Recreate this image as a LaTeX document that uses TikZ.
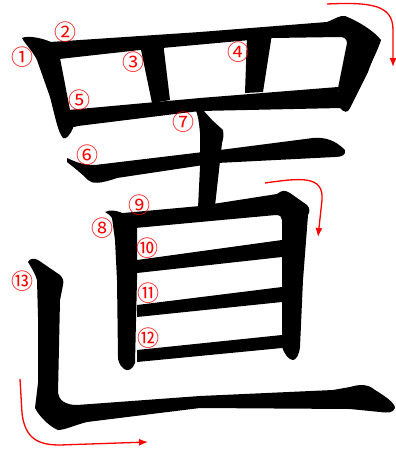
\documentclass[tikz,border=0pt]{standalone}
\usepackage{fontspec}
\newfontfamily\jpfont{Noto Sans CJK JP}
\usetikzlibrary{arrows.meta}
\begin{document}
\begin{tikzpicture}[
    x=1pt,y=-1pt,
    glyph/.style={fill=black},
    num/.style={text=red,inner sep=0pt,font=\jpfont\fontsize{22}{22}\selectfont},
    order/.style={red,line width=1.3pt,-{Latex[length=9pt,width=7pt]}}]
    \useasboundingbox (0,0) rectangle (396,453);
    \def\bl{137}
    \def\br{282}

    \fill[glyph] (22,38) .. controls (28,35) and (45,38) .. (57,45) -- (60,58)
        -- (70,110) -- (73,128) .. controls (70,135) and (66,140) .. (63,138)
        .. controls (58,132) and (56,120) .. (50,97) -- (37,60)
        .. controls (32,50) and (25,44) .. (22,38) -- cycle;
    \fill[glyph] (50,42) -- (200,32) -- (327,22) .. controls (335,19) and (340,15) .. (345,16)
        .. controls (360,22) and (375,32) .. (381,40) .. controls (378,50) and (372,60) .. (368,72)
        -- (350,108) .. controls (348,113) and (344,113) .. (340,108) -- (338,88)
        -- (347,43) .. controls (347,39) and (344,37) .. (340,37) -- (272,38)
        -- (140,50) -- (59,59) -- cycle;
    \fill[glyph] (140,45) -- (163,42) -- (170,100) -- (152,103) -- cycle;
    \fill[glyph] (247,36) -- (272,34) -- (263,92) -- (245,93) -- cycle;
    \fill[glyph] (68,110) -- (200,98) -- (338,87) -- (341,108) -- (200,111)
        -- (183,113) -- (78,126) -- (70,128) -- cycle;
    \fill[glyph] (67,158) .. controls (72,160) and (80,165) .. (95,165) -- (220,150)
        -- (313,138) .. controls (325,137) and (335,140) .. (345,150)
        .. controls (346,155) and (342,157) .. (335,157) -- (217,163) -- (117,178)
        .. controls (100,184) and (92,184) .. (88,180)
        .. controls (80,172) and (72,166) .. (67,162) -- cycle;
    \fill[glyph] (195,108) .. controls (198,107) and (201,108) .. (203,110) -- (212,120)
        -- (223,130) .. controls (224,135) and (223,140) .. (222,143) -- (215,206)
        -- (198,208) -- (200,167) -- (200,133) .. controls (199,122) and (198,115) .. (195,108) -- cycle;
    \fill[glyph] (105,212) .. controls (110,209) and (118,211) .. (125,214) -- (\bl,220)
        -- (\bl,280) -- (135,363) .. controls (133,369) and (128,372) .. (124,369)
        .. controls (119,365) and (118,360) .. (118,357) -- (117,280) -- (115,240)
        -- (112,218) .. controls (110,215) and (107,213) .. (105,212) -- cycle;
    \fill[glyph] (123,213) -- (200,206) -- (277,194) .. controls (282,190) and (285,190) .. (290,193)
        -- (307,205) .. controls (310,208) and (310,212) .. (308,215) -- (303,280) -- (300,347)
        .. controls (299,355) and (296,360) .. (293,360) .. controls (289,360) and (285,355) .. (\br,347)
        -- (\br,220) .. controls (\br,217) and (280,215) .. (276,215) -- (200,222) -- (135,228) -- cycle;
    \foreach \ya/\yb/\yc/\yd in {260/240/257/273, 305/287/302/317, 350/335/348/362}
        \fill[glyph] (\bl,\ya) -- (\br,\yb) -- (\br,\yc) -- (\bl,\yd) -- cycle;
    \fill[glyph] (28,262) .. controls (30,258) and (34,258) .. (38,260) -- (60,275)
        .. controls (63,278) and (64,281) .. (63,285) -- (60,300) -- (58,393)
        .. controls (59,400) and (65,405) .. (77,405) -- (200,396) -- (333,390) -- (350,387)
        .. controls (360,384) and (368,384) .. (375,390) .. controls (385,396) and (395,403) .. (395,408)
        .. controls (393,413) and (388,413) .. (380,412) -- (350,409) -- (200,408) -- (87,422)
        .. controls (75,425) and (65,430) .. (58,430) .. controls (52,428) and (40,418) .. (35,408)
        -- (38,383) -- (38,317) -- (37,280) .. controls (35,273) and (31,267) .. (28,262) -- cycle;

    \foreach \lab/\px/\py [count=\i] in {①/22/57, ②/65/32, ③/133/62, ④/238/52, ⑤/79/100,
        ⑥/87/155, ⑦/183/122, ⑧/102/228, ⑨/139/205, ⑩/147/248, ⑪/148/293, ⑫/148/338, ⑬/23/281}
        \node[num] (n\i) at (\px,\py) {\lab};

    \coordinate (topstart) at (327,4);
    \coordinate (topend) at (393,67);
    \coordinate (midstart) at (265,183);
    \coordinate (midend) at (318,237);
    \coordinate (botstart) at (20,379);
    \coordinate (botend) at (148,442);
    \draw[order] (topstart) .. controls (372,2) and (393,5) .. (393,30) -- (topend);
    \draw[order] (midstart) .. controls (300,178) and (324,175) .. (322,200) -- (midend);
    \draw[order] (botstart) -- (22,413) .. controls (25,440) and (40,445) .. (60,445) -- (botend);
\end{tikzpicture}
\end{document}
